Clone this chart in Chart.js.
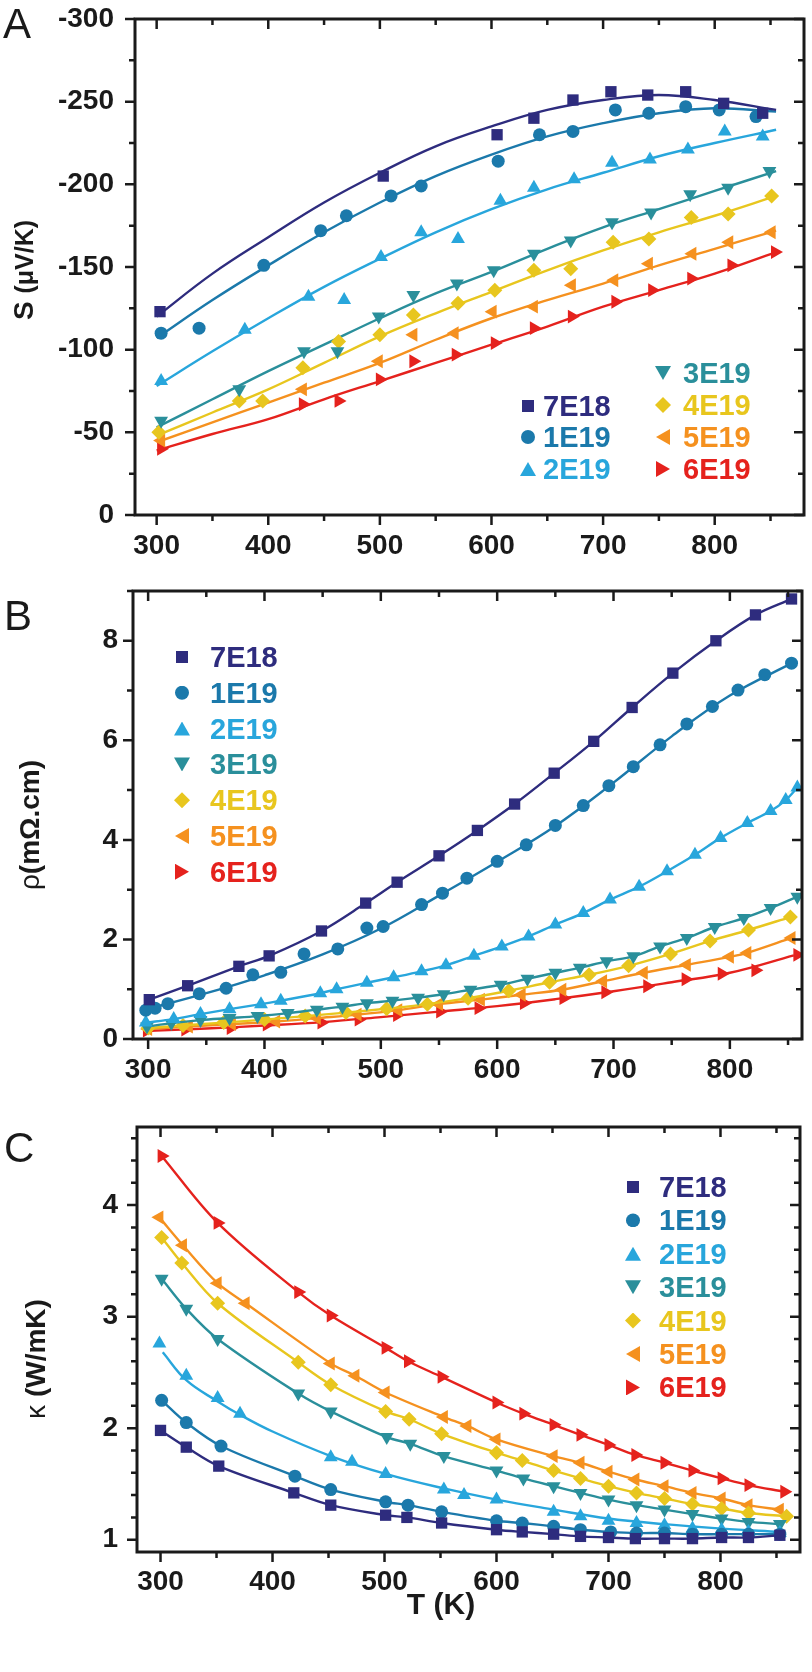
<!DOCTYPE html>
<html>
<head>
<meta charset="utf-8">
<script src="https://cdn.jsdelivr.net/npm/chart.js@4.4.1/dist/chart.umd.min.js"></script>
<style>
html,body{margin:0;padding:0;background:#fff}
#fig{position:relative;width:812px;height:1672px;overflow:hidden;font-family:'Liberation Sans',Arial,Helvetica,sans-serif;color:#1a1a1a}
#fig canvas{position:absolute;left:0}
.pl{position:absolute;font-size:42px;line-height:1}
.yt{position:absolute;white-space:nowrap;font-size:28px;font-weight:bold;line-height:1;transform:translate(-50%,-50%) rotate(-90deg)}
.yt .thin{font-weight:normal}
.xt{position:absolute;white-space:nowrap;font-size:30px;font-weight:bold;line-height:1;transform:translateX(-50%)}
.mk{position:absolute;transform:translate(-50%,-50%)}
.lt{position:absolute;font-size:29px;font-weight:bold;line-height:1;white-space:nowrap}
</style>
</head>
<body>
<div id="fig">
  <canvas id="cA" width="812" height="580" style="top:0"></canvas>
  <canvas id="cB" width="812" height="540" style="top:560px"></canvas>
  <canvas id="cC" width="812" height="572" style="top:1100px"></canvas>
  <div class="pl" style="left:3px;top:3px">A</div>
  <div class="pl" style="left:4px;top:595px">B</div>
  <div class="pl" style="left:4px;top:1127px">C</div>
  <div class="yt" style="left:24px;top:270px">S <span style="font-size:25px">(μV/K)</span></div>
  <div class="yt" style="left:30px;top:825px"><span class="thin">ρ</span>(mΩ.cm)</div>
  <div class="yt" style="left:36px;top:1359px"><span class="thin">κ</span> (W/mK)</div>
  <div class="xt" style="left:441px;top:1589px">T (K)</div>
</div>
<script>
/* 시리즈 공통 */
const SERIES = ['7E18','1E19','2E19','3E19','4E19','5E19','6E19'];
const COLORS = ['#2e2c7e','#1b79ab','#28a6dc','#2a8f9b','#e8c61e','#f5911f','#e5221d'];
const PSTYLE = ['rect','circle','triangle','triangle','rectRot','triangle','triangle'];
const PROT   = [0,0,0,180,0,-90,90];
const PRAD   = [8,6.5,8,8,7.5,8,8];

/* 눈금 라벨 */
const X_TICKS   = [300,400,500,600,700,800];
const A_Y_TICKS = [-300,-250,-200,-150,-100,-50,0];
const B_Y_TICKS = [0,2,4,6,8];
const C_Y_TICKS = [1,2,3,4];

/* A: Seebeck S (uV/K) — 측정점 [T, S] */
const A_7E18 = [[303,-123],[503,-205],[605,-230],[638,-240],[673,-251],[707,-256],[740,-254],[774,-256],[808,-249],[843,-243]];
const A_1E19 = [[304,-110],[338,-113],[396,-151],[447,-172],[470,-181],[510,-193],[537,-199],[606,-214],[643,-230],[673,-232],[711,-245],[741,-243],[774,-247],[804,-245],[837,-241]];
const A_2E19 = [[304,-81],[379,-112],[436,-132],[468,-130],[501,-156],[537,-171],[570,-167],[608,-190],[638,-198],[674,-203],[708,-213],[742,-215],[776,-221],[809,-232],[843,-229]];
const A_3E19 = [[304,-57],[374,-76],[432,-99],[462,-99],[499,-120],[530,-133],[569,-140],[602,-148],[638,-158],[671,-166],[708,-177],[743,-183],[778,-194],[812,-198],[849,-208]];
const A_4E19 = [[302,-50],[374,-69],[395,-69],[431,-89],[463,-105],[500,-109],[530,-121],[570,-128],[603,-136],[638,-148],[671,-149],[709,-165],[741,-167],[779,-180],[812,-182],[851,-193]];
const A_5E19 = [[304,-45],[431,-76],[499,-93],[530,-109],[567,-110],[601,-123],[638,-126],[672,-139],[710,-142],[741,-152],[780,-158],[813,-165],[851,-171]];
const A_6E19 = [[304,-40],[431,-67],[463,-69],[500,-82],[530,-93],[568,-97],[603,-104],[638,-113],[672,-120],[711,-129],[744,-136],[779,-143],[815,-151],[854,-159]];
/* A: 피팅선 */
const A_FIT_T    = [300,350,400,450,500,550,600,650,700,750,800,855];
const A_FIT_7E18 = [-120,-146,-168,-189,-207,-223,-235,-245,-251,-254,-251,-245];
const A_FIT_1E19 = [-107,-130,-151,-171,-189,-205,-218,-229,-237,-243,-246,-244];
const A_FIT_2E19 = [-78,-99,-119,-138,-155,-171,-185,-197,-207,-217,-225,-233];
const A_FIT_3E19 = [-53,-70,-87,-103,-119,-134,-147,-161,-174,-185,-196,-208];
const A_FIT_4E19 = [-48,-62,-76,-92,-108,-122,-135,-148,-160,-171,-181,-193];
const A_FIT_5E19 = [-44,-56,-68,-80,-92,-106,-119,-130,-140,-151,-161,-172];
const A_FIT_6E19 = [-39,-49,-58,-70,-81,-92,-103,-114,-126,-136,-146,-159];

/* B: 비저항 rho (mOhm.cm) — [T, rho] */
const B_7E18 = [[301,0.79],[334,1.07],[378,1.46],[404,1.67],[449,2.17],[487,2.73],[514,3.15],[550,3.68],[583,4.19],[615,4.72],[649,5.34],[683,5.98],[716,6.66],[751,7.35],[788,8.00],[822,8.52],[853,8.84]];
const B_1E19 = [[298,0.58],[306,0.62],[317,0.71],[344,0.91],[367,1.02],[390,1.29],[414,1.34],[434,1.71],[463,1.81],[488,2.23],[502,2.26],[535,2.70],[553,2.93],[574,3.23],[600,3.57],[625,3.90],[650,4.29],[674,4.69],[696,5.09],[717,5.47],[740,5.91],[763,6.33],[785,6.68],[807,7.01],[830,7.32],[853,7.55]];
const B_2E19 = [[298,0.33],[322,0.40],[345,0.50],[370,0.60],[397,0.70],[414,0.77],[448,0.92],[462,1.00],[488,1.13],[511,1.24],[535,1.36],[556,1.48],[580,1.67],[604,1.86],[627,2.06],[650,2.30],[674,2.53],[697,2.80],[722,3.06],[746,3.37],[770,3.70],[792,4.04],[815,4.34],[835,4.58],[848,4.80],[858,5.05]];
const B_3E19 = [[299,0.25],[320,0.32],[345,0.38],[370,0.42],[394,0.46],[420,0.52],[445,0.59],[467,0.65],[488,0.72],[510,0.77],[532,0.83],[554,0.90],[577,0.99],[603,1.09],[626,1.21],[650,1.33],[671,1.43],[694,1.56],[717,1.66],[740,1.86],[763,2.03],[787,2.25],[812,2.43],[835,2.63],[858,2.86]];
const B_4E19 = [[300,0.22],[330,0.27],[365,0.33],[400,0.39],[435,0.46],[470,0.53],[505,0.61],[540,0.70],[575,0.82],[610,0.97],[645,1.14],[679,1.29],[713,1.47],[749,1.71],[783,1.97],[816,2.19],[852,2.45]];
const B_5E19 = [[300,0.20],[335,0.25],[372,0.30],[410,0.35],[445,0.42],[480,0.49],[515,0.58],[550,0.70],[586,0.79],[621,0.89],[656,0.99],[691,1.16],[726,1.33],[763,1.49],[800,1.65],[815,1.73],[853,2.03]];
const B_6E19 = [[299,0.17],[332,0.19],[371,0.22],[402,0.29],[449,0.33],[481,0.39],[514,0.48],[551,0.55],[584,0.62],[623,0.72],[657,0.82],[693,0.94],[729,1.06],[762,1.20],[793,1.31],[822,1.38],[858,1.69]];
/* B: 점이 흩어진 계열의 피팅선 */
const B_FIT_T    = [296,350,400,450,500,550,600,650,700,750,800,855];
const B_FIT_1E19 = [0.58,0.92,1.28,1.70,2.22,2.88,3.56,4.28,5.15,6.08,6.90,7.57];
const B_FIT_6E19 = [0.16,0.21,0.27,0.34,0.44,0.55,0.66,0.80,0.96,1.14,1.33,1.68];

/* C: 열전도도 kappa (W/mK) — [T, kappa] */
const C_7E18 = [[300,1.98],[323,1.83],[352,1.66],[419,1.42],[452,1.31],[501,1.22],[520,1.20],[551,1.15],[600,1.09],[623,1.07],[651,1.05],[675,1.03],[700,1.02],[724,1.01],[750,1.01],[775,1.01],[801,1.02],[825,1.02],[853,1.04]];
const C_1E19 = [[301,2.25],[323,2.05],[354,1.84],[420,1.57],[452,1.45],[501,1.34],[521,1.31],[551,1.25],[600,1.17],[623,1.15],[651,1.12],[675,1.09],[702,1.07],[725,1.06],[750,1.06],[775,1.05],[801,1.05],[825,1.05],[853,1.05]];
const C_2E19 = [[299,2.76],[323,2.47],[351,2.27],[371,2.13],[452,1.74],[471,1.70],[501,1.59],[553,1.45],[571,1.40],[600,1.36],[651,1.25],[675,1.21],[700,1.17],[725,1.15],[750,1.13],[775,1.10],[801,1.09],[825,1.07],[853,1.06]];
const C_3E19 = [[301,3.34],[323,3.07],[351,2.80],[423,2.31],[452,2.15],[502,1.92],[523,1.86],[553,1.75],[600,1.62],[624,1.55],[651,1.48],[675,1.42],[700,1.36],[725,1.31],[750,1.27],[775,1.23],[801,1.19],[825,1.16],[853,1.14]];
const C_4E19 = [[301,3.71],[319,3.48],[351,3.12],[423,2.59],[452,2.39],[501,2.15],[522,2.08],[551,1.95],[600,1.78],[623,1.71],[651,1.62],[675,1.55],[700,1.48],[725,1.42],[750,1.37],[775,1.32],[801,1.28],[825,1.24],[859,1.21]];
const C_5E19 = [[299,3.89],[320,3.64],[351,3.30],[376,3.12],[452,2.58],[474,2.47],[501,2.32],[553,2.10],[574,2.02],[600,1.90],[651,1.75],[675,1.69],[700,1.61],[724,1.54],[750,1.48],[775,1.42],[801,1.37],[825,1.31],[853,1.27]];
const C_6E19 = [[301,4.44],[351,3.84],[423,3.22],[452,3.01],[501,2.72],[521,2.60],[551,2.46],[600,2.23],[624,2.13],[651,2.03],[675,1.94],[700,1.85],[724,1.76],[750,1.69],[775,1.62],[801,1.55],[825,1.49],[857,1.43]];
/* C: 2E19 피팅선은 첫 점 아래에서 시작 */
const C_FIT_2E19 = [[302,2.68],[323,2.43],[351,2.24],[371,2.12],[400,1.97],[452,1.75],[501,1.59],[553,1.46],[600,1.36],[651,1.27],[700,1.19],[750,1.14],[801,1.10],[853,1.07]];

const A_PTS = [A_7E18,A_1E19,A_2E19,A_3E19,A_4E19,A_5E19,A_6E19];
const A_FIT = [A_FIT_7E18,A_FIT_1E19,A_FIT_2E19,A_FIT_3E19,A_FIT_4E19,A_FIT_5E19,A_FIT_6E19];
const B_PTS = [B_7E18,B_1E19,B_2E19,B_3E19,B_4E19,B_5E19,B_6E19];
const C_PTS = [C_7E18,C_1E19,C_2E19,C_3E19,C_4E19,C_5E19,C_6E19];

const INK = '#1a1a1a';
const FONT = "'Liberation Sans', Arial, Helvetica, sans-serif";

/* ── 테두리 + 눈금 (좌/하: 바깥, 상/우: 안쪽) ───────────────── */
const frameTicks = {
  id:'frameTicks',
  afterDatasetsDraw(chart, args, o){
    const {ctx, chartArea:a, scales:{x, y}} = chart;
    ctx.save();
    ctx.strokeStyle = INK; ctx.lineCap = 'butt';
    ctx.lineWidth = 2.5;
    const each = (sc, minor, major, fn) => {
      const lo = Math.min(sc.min, sc.max), hi = Math.max(sc.min, sc.max);
      for(let k=Math.ceil(lo/minor-1e-9); k*minor<=hi+1e-9; k++){
        const v = k*minor;
        const isMaj = Math.abs(Math.round(v/major)*major - v) < 1e-6;
        fn(sc.getPixelForValue(v), isMaj ? 10 : 6);
      }
    };
    ctx.beginPath();
    each(x, o.xMinor, o.xMajor, (p,len)=>{
      ctx.moveTo(p, a.bottom); ctx.lineTo(p, a.bottom+len);
      ctx.moveTo(p, a.top);    ctx.lineTo(p, a.top+len);
    });
    each(y, o.yMinor, o.yMajor, (p,len)=>{
      ctx.moveTo(a.left-len, p); ctx.lineTo(a.left, p);
      ctx.moveTo(a.right-len, p); ctx.lineTo(a.right, p);
    });
    ctx.stroke();
    ctx.lineWidth = 3;
    ctx.strokeRect(a.left, a.top, a.right-a.left, a.bottom-a.top);
    ctx.restore();
  }
};

function ptSet(i, pts, withLine){
  return {
    data: pts.map(p=>({x:p[0], y:p[1]})),
    showLine: !!withLine, borderColor: COLORS[i], borderWidth: 2.4, tension: 0.35,
    pointStyle: PSTYLE[i], rotation: PROT[i], pointRadius: PRAD[i],
    pointBackgroundColor: COLORS[i], pointBorderWidth: 0, pointHoverRadius: PRAD[i]
  };
}
function lineSet(i, pts){
  return {
    data: pts.map(p=>({x:p[0], y:p[1]})),
    showLine: true, borderColor: COLORS[i], borderWidth: 2.4, tension: 0.4,
    pointRadius: 0, pointHoverRadius: 0
  };
}
const zipT = (ts, vs) => ts.map((t,k)=>[t, vs[k]]);

function mkPanel(id, datasets, box, xs, ys, ticks){
  const el = document.getElementById(id);
  return new Chart(el, {
    type:'scatter',
    data:{datasets},
    options:{
      responsive:false, animation:false, devicePixelRatio:1,
      layout:{padding:{top:box.top, right:box.right, left:0, bottom:0}},
      plugins:{legend:{display:false}, tooltip:{enabled:false}, frameTicks:ticks},
      scales:{
        x:{type:'linear', min:xs.min, max:xs.max,
           grid:{display:false, drawTicks:false}, border:{display:false},
           ticks:{padding:xs.pad, color:INK, font:{family:FONT, weight:'bold', size:28}},
           afterBuildTicks(s){ s.ticks = xs.ticks.map(v=>({value:v})); },
           afterFit(s){ s.height = box.xh; s.paddingLeft = 0; s.paddingRight = 0; }},
        y:{type:'linear', min:ys.min, max:ys.max, reverse:!!ys.reverse,
           grid:{display:false, drawTicks:false}, border:{display:false},
           ticks:{padding:ys.pad, color:INK, font:{family:FONT, weight:'bold', size:28}},
           afterBuildTicks(s){ s.ticks = ys.ticks.map(v=>({value:v})); },
           afterFit(s){ s.width = box.yw; s.paddingTop = 0; s.paddingBottom = 0; }}
      }
    },
    plugins:[frameTicks]
  });
}

/* ── 범례 (HTML) ──────────────────────────────────────────── */
const SHAPES = [
  {w:12,h:12,clip:'none'},
  {w:14,h:14,clip:'circle(50% at 50% 50%)'},
  {w:16,h:14,clip:'polygon(50% 0,100% 100%,0 100%)'},
  {w:16,h:14,clip:'polygon(0 0,100% 0,50% 100%)'},
  {w:16,h:16,clip:'polygon(50% 0,100% 50%,50% 100%,0 50%)'},
  {w:14,h:16,clip:'polygon(0 50%,100% 0,100% 100%)'},
  {w:14,h:16,clip:'polygon(0 0,100% 50%,0 100%)'}
];
function addLegend(items){
  const fig = document.getElementById('fig');
  items.forEach(it=>{
    const s = SHAPES[it.s];
    const m = document.createElement('div');
    m.className = 'mk';
    m.style.cssText = `left:${it.mx}px;top:${it.y}px;width:${s.w}px;height:${s.h}px;background:${COLORS[it.s]};clip-path:${s.clip}`;
    fig.appendChild(m);
    const t = document.createElement('div');
    t.className = 'lt';
    t.style.cssText = `left:${it.tx}px;top:${it.y-14}px;color:${COLORS[it.s]}`;
    t.textContent = SERIES[it.s];
    fig.appendChild(t);
  });
}

function main(){
  /* A */
  const dsA = [];
  A_PTS.forEach((p,i)=> dsA.push(ptSet(i, p, false)));
  A_FIT.forEach((f,i)=> dsA.push(lineSet(i, zipT(A_FIT_T, f))));
  mkPanel('cA', dsA, {top:19, right:6, yw:135, xh:65},
    {min:280.6, max:880, ticks:X_TICKS, pad:14},
    {min:-300, max:0, ticks:A_Y_TICKS, pad:21, reverse:true},
    {xMinor:50, xMajor:100, yMinor:25, yMajor:50});

  /* B */
  const dsB = B_PTS.map((p,i)=> ptSet(i, p, i !== 1 && i !== 6));
  dsB.push(lineSet(1, zipT(B_FIT_T, B_FIT_1E19)));
  dsB.push(lineSet(6, zipT(B_FIT_T, B_FIT_6E19)));
  mkPanel('cB', dsB, {top:31, right:10, yw:133, xh:61},
    {min:287, max:862, ticks:X_TICKS, pad:14},
    {min:0, max:9, ticks:B_Y_TICKS, pad:15},
    {xMinor:50, xMajor:100, yMinor:1, yMajor:2});

  /* C */
  const dsC = C_PTS.map((p,i)=> ptSet(i, p, i !== 2));
  dsC.push(lineSet(2, C_FIT_2E19));
  mkPanel('cC', dsC, {top:27, right:12, yw:137, xh:120},
    {min:279, max:871, ticks:X_TICKS, pad:13},
    {min:0.89, max:4.70, ticks:C_Y_TICKS, pad:19},
    {xMinor:50, xMajor:100, yMinor:0.2, yMajor:1});

  addLegend([
    {s:0, mx:528, tx:543, y:406}, {s:1, mx:528, tx:543, y:437}, {s:2, mx:528, tx:543, y:469},
    {s:3, mx:663, tx:683, y:373}, {s:4, mx:663, tx:683, y:405}, {s:5, mx:663, tx:683, y:437}, {s:6, mx:663, tx:683, y:469}
  ]);
  addLegend(SERIES.map((n,i)=>({s:i, mx:182, tx:210, y:657 + i*35.8})));
  addLegend(SERIES.map((n,i)=>({s:i, mx:633, tx:659, y:1187 + i*33.4})));
}
window.addEventListener('DOMContentLoaded', main);
</script>
</body>
</html>
